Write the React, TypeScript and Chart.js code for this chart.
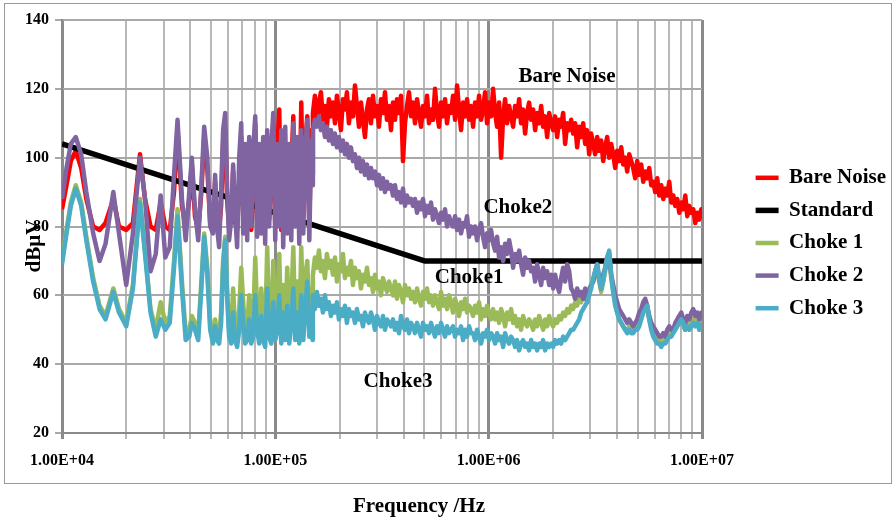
import React, { useEffect, useRef } from 'react';
import { Chart, registerables } from 'chart.js';

Chart.register(...registerables);

// Frequencies in kHz (shared by the four measured traces)
const freqKHz = [
  // 10 kHz - 51 kHz
  10, 10.5, 11, 11.6, 12.3, 13, 14, 15, 16, 17.4,
  18.5, 20, 21.5, 23.2, 24.5, 26, 27.5, 29, 30.5, 32,
  33.5, 34.8, 36.5, 38, 39.5, 40.6, 42, 43.5, 45, 46.4,
  48, 49.5, 51,
  // 52 kHz - 150 kHz
  52.2, 53.3, 54.5, 55.7, 56.9, 58.2, 59.4, 60.7, 62.1, 63.4,
  64.8, 66.2, 67.7, 69.2, 70.7, 72.2, 73.8, 75.4, 77.1, 78.7,
  80.5, 82.2, 84, 85.9, 87.7, 89.6, 91.6, 93.6, 95.7, 97.8,
  99.9, 102.1, 104.3, 106.6, 108.9, 111.3, 113.7, 116.2, 118.8, 121.4,
  124, 126.7, 129.5, 132.3, 135.2, 138.2, 141.2, 144.3, 147.4, 149.5,
  // 150 kHz - 10 MHz
  150, 153.3, 156.6, 160.1, 163.6, 167.1, 170.8, 174.5, 178.3, 182.2,
  186.2, 190.3, 194.4, 198.7, 203, 207.4, 212, 216.6, 221.3, 226.2,
  231.1, 236.2, 241.3, 246.6, 252, 257.5, 263.1, 268.9, 274.7, 280.7,
  286.9, 293.1, 299.5, 306.1, 312.8, 319.6, 326.6, 333.7, 341, 348.4,
  356, 363.8, 371.8, 379.9, 388.2, 396.7, 405.3, 414.2, 423.2, 432.5,
  441.9, 451.6, 461.5, 471.5, 481.8, 492.3, 503.1, 514.1, 525.3, 536.8,
  548.5, 560.5, 572.7, 585.2, 598, 611.1, 624.4, 638.1, 652, 666.3,
  680.8, 695.7, 710.9, 726.4, 742.3, 758.5, 775, 791.9, 809.2, 826.9,
  844.9, 863.4, 882.2, 901.5, 921.2, 941.3, 961.8, 982.8, 1004, 1026,
  1049, 1072, 1095, 1119, 1144, 1169, 1194, 1220, 1247, 1274,
  1302, 1330, 1359, 1389, 1419, 1450, 1482, 1514, 1547, 1581,
  1616, 1651, 1687, 1724, 1762, 1800, 1839, 1880, 1921, 1963,
  2006, 2049, 2094, 2140, 2186, 2234, 2283, 2333, 2384, 2436,
  2489, 2543, 2599, 2656, 2714, 2773, 2834, 2895, 2959, 3023,
  3089, 3157, 3226, 3296, 3368, 3442, 3517, 3594, 3672, 3753,
  3835, 3918, 4004, 4091, 4181, 4272, 4365, 4461, 4558, 4658,
  4759, 4863, 4970, 5078, 5189, 5303, 5418, 5537, 5658, 5781,
  5908, 6037, 6168, 6303, 6441, 6581, 6725, 6872, 7022, 7176,
  7333, 7493, 7657, 7824, 7995, 8170, 8348, 8531, 8717, 8908,
  9102, 9301, 9505, 9712, 9925, 10000,
];

const bareNoise = [
  85, 92, 99, 102, 97, 88, 80, 79, 81, 88,
  80, 79, 81, 101, 88, 80, 79, 87, 80, 79,
  90, 108, 86, 80, 88, 98, 83, 79, 90, 106,
  97, 81, 79,
  93, 81, 79, 86, 104, 108, 88, 80, 82, 96,
  81, 79, 92, 106, 86, 80, 84, 101, 79, 88,
  110, 84, 80, 98, 103, 81, 106, 82, 94, 110,
  80, 102, 114, 79, 106, 82, 100, 80, 96, 112,
  81, 105, 80, 116, 83, 104, 112, 81, 108, 95,
  113, 118, 110, 116, 119, 111, 115, 109, 117, 112,
  116, 110, 118, 113, 108, 117, 114, 119, 110, 116,
  112, 121, 115, 109, 116, 111, 106, 114, 117, 110,
  118, 112, 115, 109, 117, 113, 119, 111, 115, 108,
  116, 111, 117, 113, 118, 99, 110, 115, 119, 112,
  116, 110, 117, 113, 109, 115, 112, 118, 110, 114,
  111, 120, 113, 109, 116, 112, 117, 110, 115, 113,
  118, 111, 121, 114, 108, 116, 112, 117, 111, 115,
  109, 116, 112, 118, 111, 114, 119, 110, 116, 112,
  120, 113, 109, 116, 100, 112, 117, 110, 115, 112,
  109, 115, 112, 117, 110, 114, 107, 113, 116, 111,
  114, 108, 113, 110, 115, 109, 112, 106, 113, 110,
  108, 112, 106, 111, 109, 113, 104, 110, 108, 111,
  107, 110, 103, 109, 106, 110, 104, 108, 101, 107,
  104, 101, 106, 102, 105, 99, 103, 106, 100, 104,
  101, 97, 102, 99, 103, 98, 100, 96, 101, 99,
  97, 94, 99, 95, 98, 93, 96, 94, 97, 92,
  93, 90, 94, 89, 92, 88, 91, 89, 93, 87,
  89, 86, 88, 84, 87, 85, 89, 83, 86, 84,
  85, 81, 84, 82, 85, 83,
];

const choke1 = [
  70, 79, 87, 92, 87, 77, 65, 57, 54, 62,
  56, 52, 63, 88, 73, 56, 50, 58, 52, 54,
  70, 85, 64, 49, 50, 54, 52, 49, 64, 78,
  68, 52, 48,
  53, 49, 48, 55, 70, 77, 62, 50, 49, 62,
  50, 48, 56, 68, 58, 49, 50, 60, 49, 52,
  71, 55, 49, 62, 50, 48, 74, 52, 49, 70,
  50, 55, 72, 49, 63, 50, 68, 49, 58, 74,
  50, 64, 49, 74, 51, 66, 70, 52, 62, 55,
  66, 71, 68, 73, 67, 70, 65, 72, 68, 70,
  66, 71, 64, 69, 67, 72, 65, 68, 66, 70,
  63, 68, 65, 67, 62, 66, 64, 68, 63, 65,
  61, 66, 62, 64, 60, 65, 63, 61, 64, 62,
  60, 64, 59, 63, 61, 58, 63, 60, 62, 59,
  61, 58, 62, 59, 57, 61, 59, 62, 58, 60,
  57, 60, 58, 56, 61, 57, 59, 56, 60, 58,
  55, 59, 57, 54, 58, 56, 59, 55, 57, 56,
  54, 57, 55, 58, 53, 56, 54, 57, 55, 53,
  56, 53, 55, 52, 56, 54, 51, 55, 53, 56,
  52, 54, 51, 53, 50, 54, 52, 51, 53, 52,
  50, 53, 51, 54, 52, 50, 53, 51, 54, 52,
  51, 53, 52, 54, 53, 55, 54, 56, 55, 57,
  56, 58, 57, 59, 58, 60, 59, 61, 62, 63,
  64, 66, 68, 64, 61, 64, 67, 70, 71, 65,
  61, 58, 55, 53, 52, 51, 50, 50, 51, 50,
  50, 51, 51, 52, 54, 56, 57, 56, 53, 51,
  49, 48, 47, 47, 46, 47, 47, 48, 49, 49,
  50, 51, 52, 53, 52, 51, 50, 52, 51, 52,
  53, 52, 53, 51, 52, 52,
];

const choke2 = [
  88, 97, 104, 106, 101, 90, 78, 70, 75, 90,
  78, 63, 78, 100, 88, 67, 72, 89, 71, 74,
  95, 111, 88, 76, 90, 100, 85, 76, 92, 109,
  100, 80, 78,
  95, 80, 74, 90, 108, 113, 92, 76, 82, 98,
  84, 74, 100, 110, 78, 104, 76, 106, 80, 102,
  112, 77, 104, 78, 106, 75, 108, 80, 103, 113,
  76, 104, 80, 108, 74, 109, 78, 104, 76, 110,
  80, 106, 75, 108, 78, 103, 111, 76, 105, 92,
  108, 111, 109, 112, 108, 110, 106, 109, 105, 108,
  104, 107, 103, 106, 102, 105, 101, 104, 100, 103,
  99, 101, 97, 100, 96, 99, 95, 98, 94, 97,
  94, 96, 92, 95, 91, 94, 90, 93, 91, 92,
  89, 92, 88, 90, 87, 91, 86, 89, 87, 88,
  86, 88, 84, 87, 85, 88, 83, 86, 84, 87,
  82, 85, 83, 81, 84, 82, 85, 80, 83, 81,
  80, 83, 79, 82, 78, 81, 80, 83, 77, 80,
  78, 80, 76, 79, 81, 77, 74, 78, 76, 79,
  75, 73, 77, 71, 74, 70, 75, 72, 76, 73,
  68, 72, 70, 73, 69, 66, 71, 68, 70, 67,
  68, 64, 69, 66, 63, 68, 65, 67, 63, 66,
  62, 66, 63, 61, 65, 68, 64, 69, 67, 62,
  61, 59, 62, 60, 61, 59, 62, 58, 61, 63,
  64, 67, 69, 65, 62, 66, 68, 71, 72, 66,
  63, 60, 58, 56, 55, 54, 53, 52, 53, 52,
  51, 52, 53, 55, 56, 58, 59, 57, 54, 52,
  51, 50, 49, 48, 48, 49, 48, 50, 51, 50,
  50, 52, 53, 54, 55, 53, 52, 54, 53, 55,
  56, 54, 55, 53, 55, 55,
];

const choke3 = [
  69, 78, 86, 91, 86, 76, 64, 56, 53, 61,
  55, 51, 62, 87, 72, 55, 48, 53, 50, 52,
  68, 83, 62, 47, 48, 52, 50, 47, 62, 77,
  66, 50, 46,
  51, 47, 46, 52, 68, 76, 60, 48, 46, 55,
  47, 45, 50, 60, 52, 46, 47, 53, 46, 48,
  60, 50, 46, 54, 47, 45, 62, 48, 46, 58,
  47, 50, 60, 46, 55, 47, 57, 46, 52, 62,
  47, 55, 46, 60, 47, 56, 64, 48, 52, 47,
  60, 56, 61, 57, 59, 55, 60, 56, 58, 54,
  57, 55, 58, 53, 56, 54, 57, 52, 56, 54,
  55, 52, 56, 53, 54, 51, 55, 53, 52, 55,
  53, 50, 54, 52, 51, 54, 50, 53, 52, 51,
  53, 50, 52, 49, 54, 51, 50, 53, 49, 52,
  51, 49, 52, 50, 48, 52, 50, 51, 49, 52,
  50, 48, 51, 49, 52, 50, 48, 51, 49, 50,
  51, 48, 50, 49, 51, 47, 50, 48, 51, 49,
  49, 47, 50, 48, 46, 49, 48, 50, 47, 49,
  48, 46, 49, 47, 48, 45, 49, 47, 46, 48,
  47, 45, 47, 44, 46, 47, 45, 46, 44, 47,
  45, 46, 44, 46, 45, 47, 44, 46, 45, 46,
  45, 47, 46, 47, 46, 48, 47, 48, 49, 50,
  50, 51, 52, 53, 55, 56, 57, 58, 60, 62,
  65, 67, 69, 65, 62, 64, 68, 71, 73, 66,
  61, 57, 55, 53, 52, 51, 50, 49, 50, 49,
  49, 50, 50, 51, 53, 55, 56, 57, 53, 50,
  48, 47, 46, 46, 45, 46, 46, 47, 48, 48,
  49, 50, 51, 52, 53, 52, 50, 51, 50, 51,
  52, 51, 52, 50, 51, 52,
];

// Limit line
const standardFreqKHz = [10, 500, 10000];
const standardLevel = [104, 70, 70];

// Axes
const decadeTicks = [1e4, 1e5, 1e6, 1e7];
const decadeLabels = ['1.00E+04', '1.00E+05', '1.00E+06', '1.00E+07'];
const minorMultipliers = [1, 2, 3, 4, 5, 6, 7, 8, 9];
const yMin = 20;
const yMax = 140;
const yStep = 20;

const seriesLabels = ['Bare Noise', 'Standard', 'Choke 1', 'Choke 2', 'Choke 3'];
const seriesColors = ['#FF0000', '#000000', '#9BBB59', '#8064A2', '#4BACC6'];

const xTitle = 'Frequency /Hz';
const yTitle = 'dB\u03bcV';

// In-plot notes (anchored in data coordinates)
const noteTexts = ['Bare Noise', 'Choke2', 'Choke1', 'Choke3'];
const noteFreqs = [2.33e6, 1.37e6, 8.1e5, 3.76e5];
const noteLevels = [123.7, 85.4, 65.3, 34.8];

const FONT = 'Liberation Serif';

export default function App() {
  const ref = useRef<HTMLCanvasElement | null>(null);

  useEffect(() => {
    const canvas = ref.current;
    if (!canvas) return;

    const toPoints = (fs: number[], vs: number[]) =>
      fs.map((f, i) => ({ x: f * 1000, y: vs[i] }));

    const isDecade = (v: number | undefined) =>
      v !== undefined && decadeTicks.some((d) => Math.abs(d - v) < d * 1e-6);

    const xGridValues: number[] = [];
    for (let i = 0; i < decadeTicks.length - 1; i++) {
      for (const m of minorMultipliers) xGridValues.push(decadeTicks[i] * m);
    }
    xGridValues.push(decadeTicks[decadeTicks.length - 1]);

    const textPlugin = {
      id: 'textNotes',
      afterDatasetsDraw(chart: any) {
        const { ctx, scales } = chart;
        ctx.save();
        ctx.font = `bold 21px "${FONT}"`;
        ctx.fillStyle = '#000';
        ctx.textAlign = 'center';
        ctx.textBaseline = 'middle';
        noteTexts.forEach((t, i) => {
          ctx.fillText(t, scales.x.getPixelForValue(noteFreqs[i]), scales.y.getPixelForValue(noteLevels[i]));
        });
        ctx.restore();
      },
      afterDraw(chart: any) {
        const { ctx } = chart;
        ctx.save();
        ctx.font = `bold 21px "${FONT}"`;
        ctx.fillStyle = '#000';
        ctx.textAlign = 'center';
        ctx.textBaseline = 'middle';
        ctx.fillText(xTitle, 419, 507);
        ctx.translate(35, 246);
        ctx.rotate(-Math.PI / 2);
        ctx.fillText(yTitle, 0, 0);
        ctx.restore();
      },
    };

    const common = {
      pointRadius: 0,
      pointHoverRadius: 0,
      borderJoinStyle: 'round' as const,
      fill: false,
      tension: 0,
    };

    const chart = new Chart(canvas, {
      type: 'line',
      data: {
        datasets: [
          { ...common, label: seriesLabels[0], data: toPoints(freqKHz, bareNoise), borderColor: seriesColors[0], backgroundColor: seriesColors[0], borderWidth: 4.5, order: 5 },
          { ...common, label: seriesLabels[1], data: toPoints(standardFreqKHz, standardLevel), borderColor: seriesColors[1], backgroundColor: seriesColors[1], borderWidth: 5.5, order: 4 },
          { ...common, label: seriesLabels[2], data: toPoints(freqKHz, choke1), borderColor: seriesColors[2], backgroundColor: seriesColors[2], borderWidth: 4.5, order: 3 },
          { ...common, label: seriesLabels[3], data: toPoints(freqKHz, choke2), borderColor: seriesColors[3], backgroundColor: seriesColors[3], borderWidth: 4.5, order: 2 },
          { ...common, label: seriesLabels[4], data: toPoints(freqKHz, choke3), borderColor: seriesColors[4], backgroundColor: seriesColors[4], borderWidth: 4.5, order: 1 },
        ],
      },
      options: {
        animation: false,
        responsive: false,
        devicePixelRatio: 1,
        events: [],
        layout: { padding: { left: 0, top: 20, right: 0, bottom: 54 } },
        plugins: {
          tooltip: { enabled: false },
          legend: {
            position: 'right',
            align: 'center',
            reverse: true,
            maxWidth: 150,
            labels: {
              usePointStyle: true,
              pointStyle: 'line',
              pointStyleWidth: 23,
              boxHeight: 21,
              padding: 11.6,
              color: '#000',
              font: { family: FONT, weight: 'bold', size: 21 },
            },
          },
        },
        scales: {
          x: {
            type: 'logarithmic',
            position: 'bottom',
            min: decadeTicks[0],
            max: decadeTicks[decadeTicks.length - 1],
            afterBuildTicks: (s: any) => {
              s.ticks = xGridValues.map((v) => ({ value: v }));
            },
            afterFit: (s: any) => {
              s.height = 33;
            },
            ticks: {
              autoSkip: false,
              maxRotation: 0,
              minRotation: 0,
              padding: 12,
              color: '#000',
              font: { family: FONT, weight: 'bold', size: 16 },
              callback: (value: any) => {
                const i = decadeTicks.findIndex((d) => Math.abs(d - Number(value)) < d * 1e-6);
                return i >= 0 ? decadeLabels[i] : '';
              },
            },
            grid: {
              color: (c: any) => (isDecade(c.tick?.value) ? '#8a8a8a' : '#b8b8b8'),
              lineWidth: (c: any) => (isDecade(c.tick?.value) ? 3 : 2),
              tickLength: 6,
            },
            border: { display: true, color: '#8a8a8a', width: 2 },
          },
          y: {
            type: 'linear',
            position: 'left',
            min: yMin,
            max: yMax,
            afterFit: (s: any) => {
              s.width = 62;
            },
            ticks: {
              stepSize: yStep,
              padding: 6,
              color: '#000',
              font: { family: FONT, weight: 'bold', size: 16 },
            },
            grid: { color: '#a8a8a8', lineWidth: 2, tickLength: 7 },
            border: { display: true, color: '#8a8a8a', width: 2 },
          },
          yPad: {
            type: 'linear',
            position: 'right',
            display: true,
            afterFit: (s: any) => {
              s.width = 42;
            },
            ticks: { display: false },
            grid: { display: false },
            border: { display: false },
          },
        },
      },
      plugins: [textPlugin],
    } as any);

    return () => chart.destroy();
  }, []);

  return (
    <div style={{ position: 'absolute', left: 0, top: 0, width: 894, height: 520, background: '#fff' }}>
      <div
        style={{
          position: 'absolute',
          left: 4,
          top: 3,
          width: 888,
          height: 481,
          boxSizing: 'border-box',
          border: '1px solid #9a9a9a',
        }}
      />
      <canvas ref={ref} width={894} height={520} style={{ position: 'absolute', left: 0, top: 0, width: 894, height: 520 }} />
    </div>
  );
}
